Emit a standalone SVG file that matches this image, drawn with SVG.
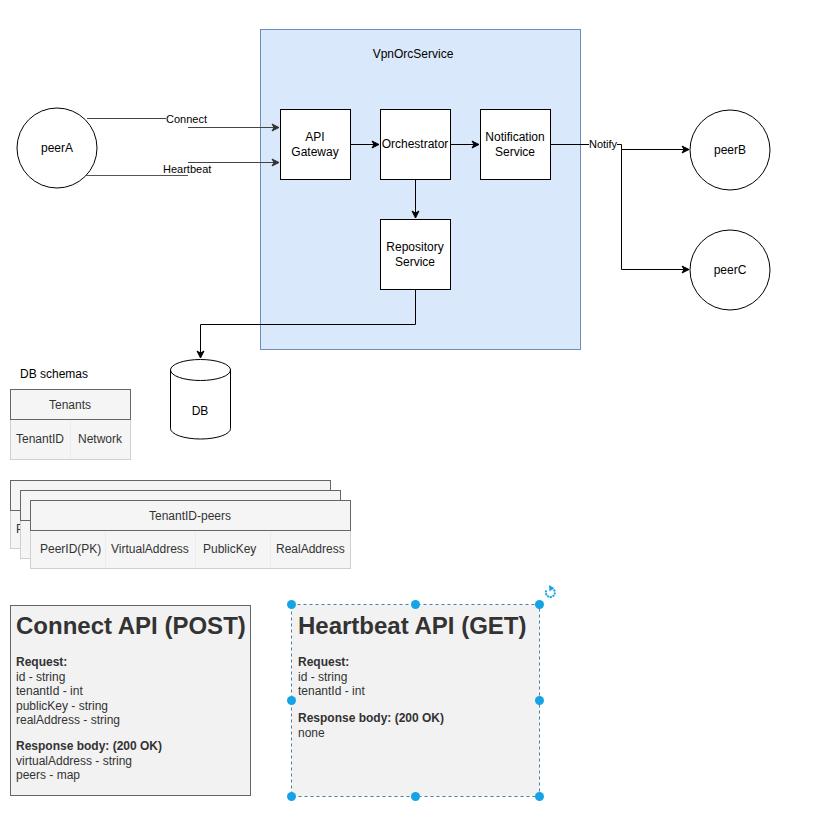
<svg xmlns="http://www.w3.org/2000/svg" width="831" height="818" viewBox="0 0 831 818">
<defs>
<marker id="arr" markerWidth="10" markerHeight="10" refX="8" refY="5" orient="auto" markerUnits="userSpaceOnUse">
<path d="M1,1.5 L8,5 L1,8.5 L3,5 Z" fill="#000" stroke="#000" stroke-width="1"/>
</marker>
<marker id="arrg" markerWidth="10" markerHeight="10" refX="8" refY="5" orient="auto" markerUnits="userSpaceOnUse">
<path d="M1,1.5 L8,5 L1,8.5 L3,5 Z" fill="#333" stroke="#333" stroke-width="1"/>
</marker>
</defs>
<style>
text{font-family:"Liberation Sans",Arial,Helvetica,sans-serif;font-size:12px;fill:#000}
.c{text-anchor:middle}
.el{font-size:11px}
.box{fill:#fff;stroke:#000;stroke-width:1}
.edge{fill:none;stroke:#000;stroke-width:1}
.tblh{fill:#f5f5f5;stroke:#666;stroke-width:1}
.tblb{fill:#f5f5f5;stroke:#d0d0d0;stroke-width:1}
.sep{stroke:#ececec;stroke-width:1}
.doc{fill:#f2f2f2;stroke:#666;stroke-width:1}
.dt{fill:#333}
.b{font-weight:bold}
.h1{font-size:24px;font-weight:bold;fill:#333}
.hd{fill:#14a4e6}
</style>
<rect width="831" height="818" fill="#fff"/>

<g id="container">
<rect x="260.5" y="29.5" width="320" height="320" fill="#dae8fc" stroke="#6c8ebf"/>
<text x="413" y="58" class="c">VpnOrcService</text>
</g>

<g id="peerA">
<circle cx="57" cy="148" r="40" fill="#fff" stroke="#000"/>
<text x="57" y="152" class="c">peerA</text>
</g>
<g id="peerB">
<circle cx="730" cy="150" r="40" fill="#fff" stroke="#000"/>
<text x="730" y="154" class="c">peerB</text>
</g>
<g id="peerC">
<circle cx="730" cy="270" r="40" fill="#fff" stroke="#000"/>
<text x="730" y="274" class="c">peerC</text>
</g>

<g id="apiGateway">
<rect x="280.5" y="109.5" width="70" height="70" class="box"/>
<text x="315" y="141" class="c">API</text>
<text x="315" y="156" class="c">Gateway</text>
</g>
<g id="orchestrator">
<rect x="380.5" y="109.5" width="70" height="70" class="box"/>
<text x="415" y="148" class="c">Orchestrator</text>
</g>
<g id="notificationService">
<rect x="480.5" y="109.5" width="70" height="70" class="box"/>
<text x="515" y="141" class="c">Notification</text>
<text x="515" y="156" class="c">Service</text>
</g>
<g id="repositoryService">
<rect x="380.5" y="219.5" width="70" height="70" class="box"/>
<text x="415" y="251" class="c">Repository</text>
<text x="415" y="266" class="c">Service</text>
</g>

<g id="db">
<path d="M170.5,370 A30,10.5 0 0 1 230.5,370 L230.5,428.5 A30,10.5 0 0 1 170.5,428.5 Z" fill="#fff" stroke="#000"/>
<path d="M170.5,370 A30,10.5 0 0 0 230.5,370" fill="none" stroke="#000"/>
<text x="200" y="415" class="c">DB</text>
</g>

<g id="connectors">
<line x1="87" y1="118.5" x2="166" y2="118.5" stroke="#444"/>
<line x1="188" y1="127.5" x2="279" y2="127.5" stroke="#444" marker-end="url(#arrg)"/>
<line x1="85" y1="175.5" x2="188" y2="175.5" stroke="#555"/>
<line x1="188" y1="162.5" x2="279" y2="162.5" stroke="#444" marker-end="url(#arrg)"/>
<text x="166" y="123" class="el">Connect</text>
<text x="163" y="173" class="el">Heartbeat</text>
<line x1="350.5" y1="144.5" x2="379" y2="144.5" class="edge" marker-end="url(#arr)"/>
<line x1="450.5" y1="144.5" x2="479" y2="144.5" class="edge" marker-end="url(#arr)"/>
<line x1="415.5" y1="179.5" x2="415.5" y2="218" class="edge" marker-end="url(#arr)"/>
<path d="M415.5,289.5 V324.5 H200.5 V358" class="edge" marker-end="url(#arr)"/>
<line x1="550.5" y1="144.5" x2="589" y2="144.5" class="edge"/>
<text x="589" y="148" class="el">Notify</text>
<path d="M617,144.5 H621.5 V149.5 H689" class="edge" marker-end="url(#arr)"/>
<path d="M621.5,149.5 V269.5 H689" class="edge" marker-end="url(#arr)"/>
</g>

<g id="dbSchemasLabel">
<text x="20" y="378">DB schemas</text>
</g>

<g id="tenantsTable">
<rect x="10.5" y="419.5" width="120" height="40" class="tblb"/>
<line x1="70.5" y1="420" x2="70.5" y2="459" class="sep"/>
<rect x="10.5" y="389.5" width="120" height="30" class="tblh"/>
<text x="70" y="409" class="c dt">Tenants</text>
<text x="16" y="443" class="dt">TenantID</text>
<text x="78" y="443" class="dt">Network</text>
</g>

<g id="peersTable3">
<rect x="10.5" y="510.5" width="320" height="38" class="tblb"/>
<rect x="10.5" y="480.5" width="320" height="30" class="tblh"/>
<text x="16" y="533" class="dt">PeerID(PK)</text>
</g>
<g id="peersTable2">
<rect x="20.5" y="520.5" width="320" height="38" class="tblb"/>
<rect x="20.5" y="490.5" width="320" height="30" class="tblh"/>
</g>
<g id="peersTable">
<rect x="30.5" y="530.5" width="320" height="38" class="tblb"/>
<line x1="105.5" y1="531" x2="105.5" y2="568" class="sep"/>
<line x1="195.5" y1="531" x2="195.5" y2="568" class="sep"/>
<line x1="270.5" y1="531" x2="270.5" y2="568" class="sep"/>
<rect x="30.5" y="500.5" width="320" height="30" class="tblh"/>
<text x="190" y="520" class="c dt">TenantID-peers</text>
<text x="40" y="553" class="dt">PeerID(PK)</text>
<text x="111" y="553" class="dt">VirtualAddress</text>
<text x="203" y="553" class="dt">PublicKey</text>
<text x="276" y="553" class="dt">RealAddress</text>
</g>

<g id="connectApi">
<rect x="10.5" y="605.5" width="240" height="190" class="doc"/>
<text x="16" y="634" class="h1">Connect API (POST)</text>
<text x="16" y="666" class="dt b">Request:</text>
<text x="16" y="681" class="dt">id - string</text>
<text x="16" y="695" class="dt">tenantId - int</text>
<text x="16" y="710" class="dt">publicKey - string</text>
<text x="16" y="724" class="dt">realAddress - string</text>
<text x="16" y="750" class="dt b">Response body: (200 OK)</text>
<text x="16" y="765" class="dt">virtualAddress - string</text>
<text x="16" y="779" class="dt">peers - map</text>
</g>

<g id="heartbeatApi">
<rect x="291.5" y="604.5" width="248" height="192" fill="#f2f2f2" stroke="#4d7fa6" stroke-dasharray="3 3"/>
<text x="298" y="634" class="h1">Heartbeat API (GET)</text>
<text x="298" y="666" class="dt b">Request:</text>
<text x="298" y="681" class="dt">id - string</text>
<text x="298" y="695" class="dt">tenantId - int</text>
<text x="298" y="722" class="dt b">Response body: (200 OK)</text>
<text x="298" y="737" class="dt">none</text>
<circle cx="291.5" cy="604.5" r="4.5" class="hd"/>
<circle cx="415.5" cy="604.5" r="4.5" class="hd"/>
<circle cx="539.5" cy="604.5" r="4.5" class="hd"/>
<circle cx="291.5" cy="700.5" r="4.5" class="hd"/>
<circle cx="539.5" cy="700.5" r="4.5" class="hd"/>
<circle cx="291.5" cy="796.5" r="4.5" class="hd"/>
<circle cx="415.5" cy="796.5" r="4.5" class="hd"/>
<circle cx="539.5" cy="796.5" r="4.5" class="hd"/>
<path d="M546.3,590.5 A4.5,4.5 0 1 0 551.5,588.2" fill="none" stroke="#14a4e6" stroke-width="2" stroke-dasharray="2 0.8"/>
<path d="M549,585 L554,588 L549.5,591.5 Z" fill="#14a4e6"/>
</g>
</svg>
